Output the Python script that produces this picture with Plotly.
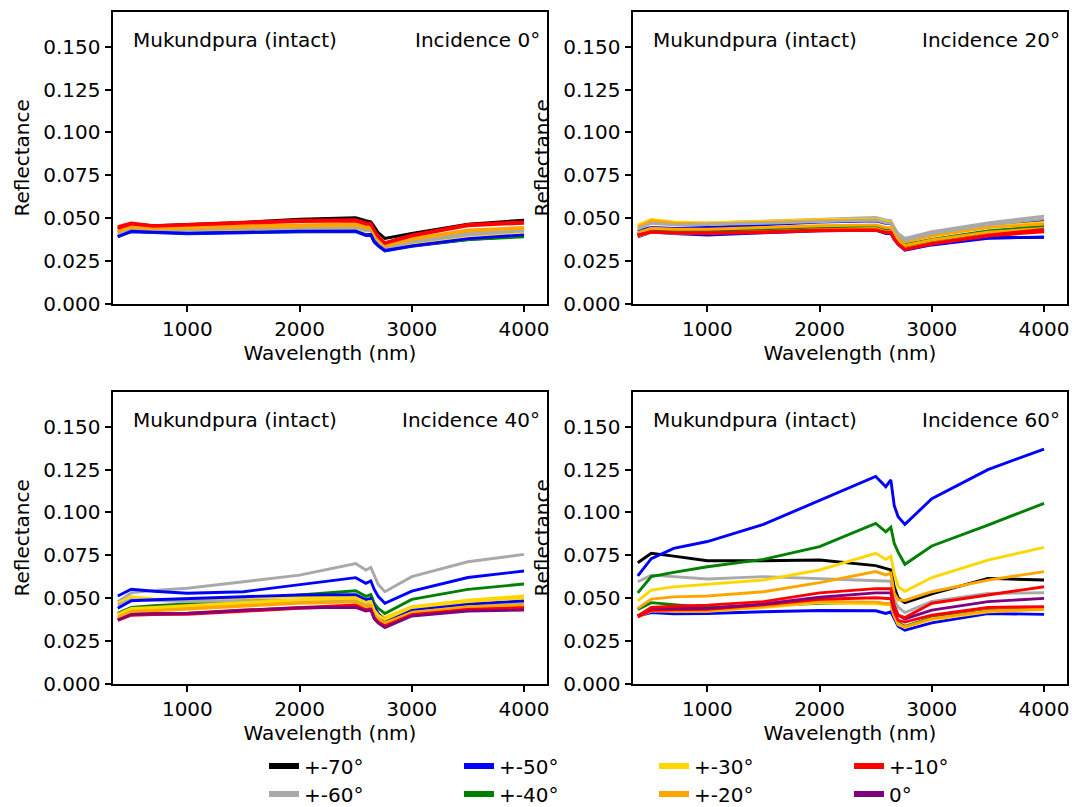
import plotly.graph_objects as go

# ---------------- data ----------------
wavelength_nm = [380, 500, 700, 1000, 1500, 2000, 2500, 2590, 2635, 2665, 2700, 2760, 3000, 3500, 4000]

angle_labels = ["+-70°", "+-60°", "+-50°", "+-40°", "+-30°", "+-20°", "+-10°", "0°"]
angle_colors = ["#000000", "#a9a9a9", "#0000ff", "#008000", "#ffd700", "#ffa500", "#ff0000", "#800080"]

panel_titles = ["Incidence 0°", "Incidence 20°", "Incidence 40°", "Incidence 60°"]
sample_name = "Mukundpura (intact)"

# Incidence 0°
inc0_purple = [0.0418, 0.0443, 0.0436, 0.0440, 0.0446, 0.0452, 0.0455, 0.0440, 0.0440, 0.0402, 0.0367, 0.0333, 0.0372, 0.0420, 0.0435]
inc0_black_a = [0.0439, 0.0465, 0.0455, 0.0462, 0.0475, 0.0494, 0.0502, 0.0485, 0.0478, 0.0450, 0.0415, 0.0381, 0.0410, 0.0464, 0.0488]
inc0_gray_a = [0.0415, 0.0443, 0.0438, 0.0438, 0.0442, 0.0447, 0.0450, 0.0432, 0.0435, 0.0395, 0.0360, 0.0328, 0.0363, 0.0410, 0.0432]
inc0_gray_b = [0.0410, 0.0438, 0.0432, 0.0432, 0.0437, 0.0442, 0.0445, 0.0428, 0.0430, 0.0390, 0.0356, 0.0325, 0.0358, 0.0402, 0.0425]
inc0_blue_a = [0.0395, 0.0420, 0.0415, 0.0408, 0.0414, 0.0420, 0.0420, 0.0398, 0.0400, 0.0360, 0.0338, 0.0308, 0.0335, 0.0375, 0.0395]
inc0_blue_b = [0.0392, 0.0423, 0.0418, 0.0412, 0.0417, 0.0423, 0.0424, 0.0402, 0.0404, 0.0364, 0.0341, 0.0311, 0.0338, 0.0380, 0.0402]
inc0_green_a = [0.0390, 0.0422, 0.0418, 0.0412, 0.0418, 0.0422, 0.0422, 0.0402, 0.0405, 0.0365, 0.0340, 0.0312, 0.0338, 0.0375, 0.0390]
inc0_gold_a = [0.0405, 0.0432, 0.0428, 0.0430, 0.0435, 0.0438, 0.0440, 0.0423, 0.0425, 0.0385, 0.0352, 0.0320, 0.0352, 0.0398, 0.0420]
inc0_orange_a = [0.0425, 0.0452, 0.0445, 0.0448, 0.0455, 0.0462, 0.0465, 0.0450, 0.0450, 0.0410, 0.0375, 0.0340, 0.0380, 0.0430, 0.0445]
inc0_orange_b = [0.0420, 0.0445, 0.0438, 0.0442, 0.0448, 0.0455, 0.0458, 0.0443, 0.0443, 0.0405, 0.0370, 0.0336, 0.0375, 0.0425, 0.0440]
inc0_red_a = [0.0450, 0.0472, 0.0456, 0.0463, 0.0474, 0.0488, 0.0490, 0.0472, 0.0470, 0.0430, 0.0395, 0.0356, 0.0401, 0.0463, 0.0478]
inc0_red_b = [0.0440, 0.0465, 0.0452, 0.0458, 0.0468, 0.0480, 0.0482, 0.0465, 0.0462, 0.0425, 0.0390, 0.0352, 0.0395, 0.0455, 0.0470]

# Incidence 20°
inc20_purple = [0.0402, 0.0422, 0.0417, 0.0416, 0.0423, 0.0433, 0.0436, 0.0421, 0.0421, 0.0383, 0.0352, 0.0320, 0.0353, 0.0400, 0.0428]
inc20_black_a = [0.0400, 0.0425, 0.0420, 0.0420, 0.0428, 0.0436, 0.0440, 0.0425, 0.0425, 0.0385, 0.0355, 0.0325, 0.0352, 0.0385, 0.0387]
inc20_gray_a = [0.0450, 0.0479, 0.0470, 0.0472, 0.0482, 0.0494, 0.0504, 0.0488, 0.0485, 0.0445, 0.0410, 0.0381, 0.0420, 0.0472, 0.0511]
inc20_gray_b = [0.0435, 0.0470, 0.0460, 0.0462, 0.0470, 0.0480, 0.0488, 0.0472, 0.0470, 0.0430, 0.0398, 0.0368, 0.0410, 0.0460, 0.0495]
inc20_blue_a = [0.0425, 0.0445, 0.0440, 0.0445, 0.0460, 0.0476, 0.0484, 0.0470, 0.0468, 0.0430, 0.0395, 0.0360, 0.0405, 0.0455, 0.0488]
inc20_blue_b = [0.0390, 0.0418, 0.0410, 0.0401, 0.0414, 0.0426, 0.0430, 0.0410, 0.0410, 0.0375, 0.0345, 0.0312, 0.0343, 0.0382, 0.0390]
inc20_green_a = [0.0410, 0.0435, 0.0430, 0.0430, 0.0440, 0.0450, 0.0455, 0.0442, 0.0440, 0.0405, 0.0375, 0.0345, 0.0375, 0.0425, 0.0453]
inc20_green_b = [0.0405, 0.0430, 0.0425, 0.0425, 0.0435, 0.0444, 0.0448, 0.0436, 0.0434, 0.0398, 0.0368, 0.0338, 0.0368, 0.0418, 0.0445]
inc20_gold_a = [0.0459, 0.0492, 0.0478, 0.0472, 0.0480, 0.0490, 0.0495, 0.0480, 0.0478, 0.0435, 0.0400, 0.0365, 0.0400, 0.0448, 0.0475]
inc20_gold_b = [0.0395, 0.0418, 0.0412, 0.0412, 0.0420, 0.0432, 0.0438, 0.0420, 0.0420, 0.0385, 0.0355, 0.0322, 0.0352, 0.0398, 0.0425]
inc20_orange_a = [0.0445, 0.0485, 0.0470, 0.0465, 0.0475, 0.0485, 0.0490, 0.0475, 0.0472, 0.0430, 0.0395, 0.0360, 0.0395, 0.0445, 0.0465]
inc20_orange_b = [0.0415, 0.0440, 0.0435, 0.0435, 0.0445, 0.0455, 0.0460, 0.0445, 0.0443, 0.0405, 0.0372, 0.0340, 0.0372, 0.0418, 0.0440]
inc20_red_a = [0.0400, 0.0420, 0.0415, 0.0414, 0.0420, 0.0430, 0.0432, 0.0418, 0.0418, 0.0380, 0.0350, 0.0318, 0.0352, 0.0400, 0.0434]
inc20_red_b = [0.0398, 0.0418, 0.0412, 0.0410, 0.0416, 0.0425, 0.0428, 0.0414, 0.0414, 0.0377, 0.0347, 0.0315, 0.0348, 0.0395, 0.0420]

# Incidence 40°
inc40_gray_a = [0.0479, 0.0530, 0.0545, 0.0557, 0.0595, 0.0634, 0.0702, 0.0664, 0.0679, 0.0630, 0.0580, 0.0537, 0.0625, 0.0712, 0.0755]
inc40_gray_b = [0.0459, 0.0490, 0.0485, 0.0480, 0.0484, 0.0486, 0.0490, 0.0465, 0.0470, 0.0420, 0.0390, 0.0365, 0.0430, 0.0458, 0.0475]
inc40_blue_a = [0.0512, 0.0551, 0.0540, 0.0528, 0.0537, 0.0576, 0.0619, 0.0586, 0.0600, 0.0550, 0.0510, 0.0469, 0.0540, 0.0620, 0.0658]
inc40_blue_b = [0.0440, 0.0484, 0.0490, 0.0498, 0.0508, 0.0518, 0.0520, 0.0490, 0.0498, 0.0450, 0.0410, 0.0370, 0.0434, 0.0465, 0.0484]
inc40_green_a = [0.0411, 0.0446, 0.0455, 0.0465, 0.0488, 0.0518, 0.0543, 0.0510, 0.0520, 0.0470, 0.0440, 0.0410, 0.0492, 0.0551, 0.0582]
inc40_gold_a = [0.0469, 0.0508, 0.0495, 0.0488, 0.0498, 0.0508, 0.0512, 0.0485, 0.0490, 0.0440, 0.0410, 0.0387, 0.0450, 0.0488, 0.0512]
inc40_gold_b = [0.0405, 0.0440, 0.0445, 0.0455, 0.0475, 0.0490, 0.0500, 0.0475, 0.0480, 0.0430, 0.0400, 0.0375, 0.0445, 0.0480, 0.0500]
inc40_orange_a = [0.0395, 0.0430, 0.0438, 0.0446, 0.0465, 0.0482, 0.0488, 0.0460, 0.0465, 0.0410, 0.0385, 0.0368, 0.0424, 0.0460, 0.0469]
inc40_orange_b = [0.0385, 0.0420, 0.0425, 0.0435, 0.0455, 0.0470, 0.0478, 0.0450, 0.0455, 0.0400, 0.0375, 0.0355, 0.0415, 0.0450, 0.0460]
inc40_red_a = [0.0376, 0.0407, 0.0410, 0.0411, 0.0430, 0.0446, 0.0459, 0.0435, 0.0440, 0.0390, 0.0365, 0.0343, 0.0410, 0.0440, 0.0446]
inc40_red_b = [0.0370, 0.0400, 0.0403, 0.0405, 0.0423, 0.0440, 0.0452, 0.0430, 0.0435, 0.0385, 0.0360, 0.0337, 0.0403, 0.0432, 0.0438]
inc40_purple = [0.0372, 0.0405, 0.0408, 0.0410, 0.0428, 0.0443, 0.0446, 0.0425, 0.0430, 0.0380, 0.0355, 0.0328, 0.0395, 0.0424, 0.0430]

# Incidence 60°
inc60_black_a = [0.0706, 0.0761, 0.0745, 0.0718, 0.0718, 0.0722, 0.0689, 0.0670, 0.0664, 0.0566, 0.0500, 0.0473, 0.0525, 0.0615, 0.0605]
inc60_gray_a = [0.0595, 0.0634, 0.0625, 0.0611, 0.0625, 0.0615, 0.0603, 0.0600, 0.0598, 0.0489, 0.0447, 0.0415, 0.0480, 0.0527, 0.0531]
inc60_blue_a = [0.0630, 0.0730, 0.0790, 0.0830, 0.0930, 0.1070, 0.1210, 0.1150, 0.1190, 0.1040, 0.0975, 0.0930, 0.1080, 0.1250, 0.1370]
inc60_blue_b = [0.0395, 0.0415, 0.0408, 0.0410, 0.0420, 0.0427, 0.0426, 0.0410, 0.0420, 0.0380, 0.0335, 0.0313, 0.0355, 0.0410, 0.0405]
inc60_green_a = [0.0530, 0.0625, 0.0650, 0.0683, 0.0726, 0.0800, 0.0936, 0.0887, 0.0913, 0.0820, 0.0768, 0.0697, 0.0804, 0.0926, 0.1053]
inc60_green_b = [0.0434, 0.0473, 0.0462, 0.0445, 0.0455, 0.0470, 0.0475, 0.0465, 0.0465, 0.0400, 0.0355, 0.0335, 0.0385, 0.0428, 0.0438]
inc60_gold_a = [0.0483, 0.0547, 0.0565, 0.0580, 0.0605, 0.0664, 0.0761, 0.0726, 0.0745, 0.0644, 0.0566, 0.0540, 0.0620, 0.0722, 0.0796]
inc60_gold_b = [0.0390, 0.0425, 0.0423, 0.0422, 0.0444, 0.0473, 0.0467, 0.0460, 0.0460, 0.0395, 0.0345, 0.0328, 0.0375, 0.0420, 0.0433]
inc60_orange_a = [0.0440, 0.0494, 0.0507, 0.0512, 0.0537, 0.0590, 0.0655, 0.0635, 0.0645, 0.0528, 0.0490, 0.0486, 0.0537, 0.0605, 0.0654]
inc60_orange_b = [0.0395, 0.0430, 0.0428, 0.0426, 0.0450, 0.0480, 0.0476, 0.0467, 0.0467, 0.0400, 0.0350, 0.0331, 0.0380, 0.0425, 0.0435]
inc60_red_a = [0.0395, 0.0446, 0.0452, 0.0459, 0.0479, 0.0530, 0.0555, 0.0554, 0.0554, 0.0460, 0.0400, 0.0386, 0.0470, 0.0518, 0.0566]
inc60_red_b = [0.0390, 0.0429, 0.0432, 0.0434, 0.0460, 0.0493, 0.0502, 0.0496, 0.0496, 0.0420, 0.0370, 0.0360, 0.0400, 0.0445, 0.0450]
inc60_purple = [0.0395, 0.0440, 0.0442, 0.0440, 0.0465, 0.0505, 0.0530, 0.0531, 0.0530, 0.0445, 0.0400, 0.0378, 0.0430, 0.0479, 0.0498]

# table: (panel index, angle index, values) in drawing order
series = [
    (0, 7, inc0_purple), (0, 0, inc0_black_a), (0, 1, inc0_gray_a), (0, 2, inc0_blue_a),
    (0, 3, inc0_green_a), (0, 4, inc0_gold_a), (0, 5, inc0_orange_a), (0, 1, inc0_gray_b),
    (0, 5, inc0_orange_b), (0, 6, inc0_red_b), (0, 6, inc0_red_a), (0, 2, inc0_blue_b),
    (1, 7, inc20_purple), (1, 0, inc20_black_a), (1, 1, inc20_gray_a), (1, 2, inc20_blue_a),
    (1, 3, inc20_green_a), (1, 4, inc20_gold_a), (1, 5, inc20_orange_a), (1, 1, inc20_gray_b),
    (1, 2, inc20_blue_b), (1, 3, inc20_green_b), (1, 4, inc20_gold_b), (1, 5, inc20_orange_b),
    (1, 6, inc20_red_a), (1, 6, inc20_red_b),
    (2, 1, inc40_gray_a), (2, 2, inc40_blue_a), (2, 3, inc40_green_a), (2, 4, inc40_gold_a),
    (2, 5, inc40_orange_a), (2, 6, inc40_red_a), (2, 1, inc40_gray_b), (2, 2, inc40_blue_b),
    (2, 4, inc40_gold_b), (2, 5, inc40_orange_b), (2, 6, inc40_red_b), (2, 7, inc40_purple),
    (3, 0, inc60_black_a), (3, 1, inc60_gray_a), (3, 2, inc60_blue_a), (3, 3, inc60_green_a),
    (3, 3, inc60_green_b), (3, 4, inc60_gold_a), (3, 5, inc60_orange_a), (3, 2, inc60_blue_b),
    (3, 4, inc60_gold_b), (3, 5, inc60_orange_b), (3, 6, inc60_red_b), (3, 7, inc60_purple),
    (3, 6, inc60_red_a),
]

x_ticks = [1000, 2000, 3000, 4000]
y_ticks = [0.0, 0.025, 0.05, 0.075, 0.1, 0.125, 0.15]

# ---------------- figure ----------------
W, H = 1072, 807
FONT = "DejaVu Sans"
FS = 20

fig = go.Figure()

axis_names = ["", "2", "3", "4"]
for p, a, vals in series:
    fig.add_trace(go.Scatter(
        x=wavelength_nm, y=vals, mode="lines",
        line=dict(color=angle_colors[a], width=2.9),
        xaxis="x" + axis_names[p], yaxis="y" + axis_names[p],
        showlegend=False, hoverinfo="skip",
    ))

# legend entries: row 1 -> legend, row 2 -> legend2 (matplotlib column order)
row1 = [0, 2, 4, 6]
row2 = [1, 3, 5, 7]
for idx in row1:
    fig.add_trace(go.Scatter(x=[None], y=[None], mode="lines", name=angle_labels[idx],
                             line=dict(color=angle_colors[idx], width=5.8), legend="legend"))
for idx in row2:
    fig.add_trace(go.Scatter(x=[None], y=[None], mode="lines", name=angle_labels[idx],
                             line=dict(color=angle_colors[idx], width=5.8), legend="legend2"))

xdom_left = [113.3 / W, 546.7 / W]
xdom_right = [633.3 / W, 1066.7 / W]
ydom_top = [1 - 303.7 / H, 1 - 12 / H]
ydom_bot = [1 - 683.7 / H, 1 - 392 / H]
doms = [(xdom_left, ydom_top), (xdom_right, ydom_top), (xdom_left, ydom_bot), (xdom_right, ydom_bot)]

layout = dict(
    width=W, height=H, autosize=False,
    margin=dict(l=0, r=0, t=0, b=0, autoexpand=False),
    paper_bgcolor="white", plot_bgcolor="white",
    font=dict(family=FONT, size=FS, color="black"),
    annotations=[],
)

ax_common = dict(
    showline=True, linecolor="black", linewidth=1.5, mirror=True,
    ticks="outside", ticklen=7, tickwidth=1.5, tickcolor="black",
    showgrid=False, zeroline=False, automargin=False,
    tickfont=dict(family=FONT, size=FS, color="black"),
)

for i, (xd, yd) in enumerate(doms):
    n = axis_names[i]
    layout["xaxis" + n] = dict(
        ax_common, domain=xd, range=[340, 4202], tickvals=x_ticks,
        ticktext=[str(v) for v in x_ticks], anchor="y" + n,
        title=dict(text="Wavelength (nm)", font=dict(family=FONT, size=FS), standoff=6),
    )
    layout["yaxis" + n] = dict(
        ax_common, domain=yd, range=[0, 0.1703], tickvals=y_ticks,
        tickformat=".3f", anchor="x" + n,
        title=dict(text="Reflectance", font=dict(family=FONT, size=FS), standoff=8),
    )
    layout["annotations"].append(dict(
        text=sample_name, xref=("x" + n) + " domain", yref=("y" + n) + " domain",
        x=0.041, y=0.904, xanchor="left", yanchor="middle", showarrow=False,
        font=dict(family=FONT, size=FS, color="black"),
    ))
    layout["annotations"].append(dict(
        text=panel_titles[i], xref=("x" + n) + " domain", yref=("y" + n) + " domain",
        x=0.99, y=0.904, xanchor="right", yanchor="middle", showarrow=False,
        font=dict(family=FONT, size=FS, color="black"),
    ))

leg_common = dict(
    orientation="h", xanchor="left", yanchor="middle",
    x=264 / W, entrywidth=150, entrywidthmode="pixels",
    font=dict(family=FONT, size=FS, color="black"),
    bgcolor="rgba(0,0,0,0)", borderwidth=0, itemclick=False, itemdoubleclick=False,
)
layout["legend"] = dict(leg_common, y=1 - 766 / H)
layout["legend2"] = dict(leg_common, y=1 - 794 / H)

fig.update_layout(**layout)
fig.write_html(
    "out.html",
    config={"displayModeBar": False},
    post_script=(
        "var s=document.documentElement.style;s.margin='0';s.padding='0';s.overflow='hidden';"
        "var b=document.body.style;b.margin='0';b.padding='0';b.overflow='hidden';"
    ),
)
